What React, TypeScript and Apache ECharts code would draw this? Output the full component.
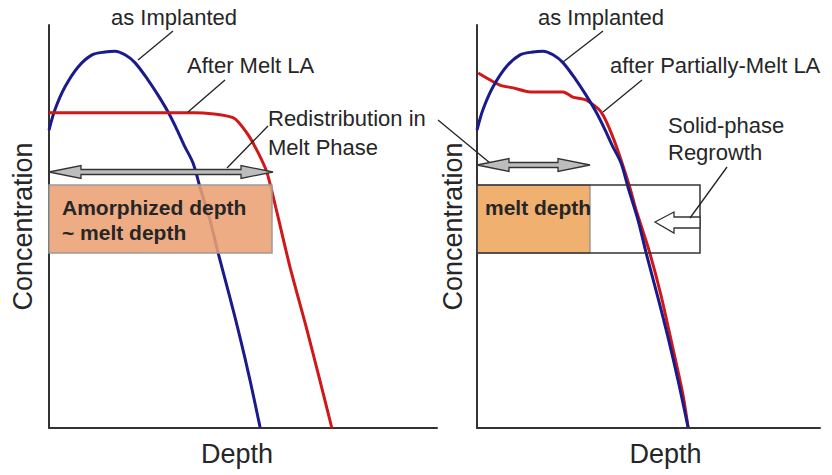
import React, { useEffect, useRef } from "react";
import * as echarts from "echarts";

// as-implanted profile (same in both panels): depth, concentration (arbitrary units)
const implantedDepth = [0, 1.5, 4.1, 7.5, 11.1, 14.4, 17.0, 19.6, 22.2, 25.5, 28.1, 30.7, 33.0, 34.8, 37.1, 38.9, 41.5, 43.6, 46.6, 49.2, 51.8, 54.4];
const implantedConc = [73.9, 78.9, 84.6, 89.6, 92.6, 93.3, 93.5, 92.6, 90.6, 86.4, 82.6, 78.4, 74.0, 70.2, 65.8, 59.8, 51.6, 43.4, 32.5, 22.6, 11.9, 0.2];

// after melt LA (left panel)
const meltDepth = [0, 37.4, 47.4, 51.0, 53.8, 56.2, 58.8, 62.1, 66.5, 69.8, 72.9];
const meltConc = [78.2, 78.2, 77.0, 73.2, 68.5, 63.3, 53.3, 40.0, 24.3, 11.9, 0];

// after partially-melt LA (right panel)
const partialDepth = [0.3, 5.9, 9.3, 13.7, 22.2, 24.7, 28.1, 32.0, 35.3, 39.2, 41.0, 44.3, 47.4, 50.3, 53.1, 54.4];
const partialConc = [88.1, 85.1, 84.4, 83.4, 83.4, 82.1, 81.4, 78.4, 71.5, 60.3, 54.1, 44.2, 33.0, 20.6, 8.2, 0.2];

const FONT = '"Liberation Sans", Arial, sans-serif';
const TXT = "#262626";

const zip = (xs: number[], ys: number[]) => xs.map((x, i) => [x, ys[i]]);

function dblArrow(x1: number, x2: number, y: number) {
  const hl = 32, hh = 6.5, sh = 2.5;
  return {
    type: "polygon",
    z: 20,
    shape: {
      points: [
        [x1, y], [x1 + hl, y - hh], [x1 + hl, y - sh], [x2 - hl, y - sh], [x2 - hl, y - hh],
        [x2, y], [x2 - hl, y + hh], [x2 - hl, y + sh], [x1 + hl, y + sh], [x1 + hl, y + hh],
      ],
    },
    style: { fill: "#bdbdbd", stroke: "#333", lineWidth: 1.3 },
  };
}

function leader(x1: number, y1: number, x2: number, y2: number) {
  return {
    type: "line",
    z: 20,
    shape: { x1, y1, x2, y2 },
    style: { stroke: "#222", lineWidth: 1.3 },
  };
}

function label(text: string, x: number, y: number, align = "left", size = 22, bold = false) {
  return {
    type: "text",
    z: 30,
    x,
    y,
    style: {
      text,
      fill: TXT,
      font: `${bold ? "bold " : ""}${size}px ${FONT}`,
      align,
      verticalAlign: "middle",
    },
  };
}

export default function App() {
  const ref = useRef<HTMLDivElement>(null);

  useEffect(() => {
    if (!ref.current) return;
    const chart = echarts.init(ref.current, undefined, { renderer: "svg" });

    const axisLine = { show: true, lineStyle: { color: "#333", width: 2 } };
    const nameStyle = { fontSize: 27, color: TXT, fontFamily: FONT };

    const xAxisBase = {
      type: "value",
      min: 0,
      axisLine,
      axisTick: { show: false },
      axisLabel: { show: false },
      splitLine: { show: false },
      name: "Depth",
      nameLocation: "middle",
      nameGap: 12,
    };
    const yAxisBase = {
      type: "value",
      min: 0,
      max: 100,
      axisLine,
      axisTick: { show: false },
      axisLabel: { show: false },
      splitLine: { show: false },
      name: "Concentration",
      nameLocation: "middle",
      nameTextStyle: nameStyle,
    };

    const graphic: any[] = [
      // left panel annotations
      {
        type: "rect",
        z: 10,
        shape: { x: 49, y: 185, width: 223, height: 68 },
        style: { fill: "rgba(235,160,115,0.88)", stroke: "#9a9a9a", lineWidth: 1.5 },
      },
      dblArrow(49, 273, 172),
      label("Amorphized depth", 62, 207, "left", 21, true),
      label("~ melt depth", 62, 232, "left", 21, true),
      label("as Implanted", 174, 17, "center"),
      leader(173, 31, 138, 60),
      label("After Melt LA", 187, 65),
      leader(225, 80, 188, 112),
      label("Redistribution in", 268, 118),
      label("Melt Phase", 268, 147),
      leader(268, 126, 227, 168),
      leader(438, 120, 490, 163),

      // right panel annotations
      {
        type: "rect",
        z: 10,
        shape: { x: 477, y: 185, width: 113, height: 68 },
        style: { fill: "#f0b070", stroke: "#8a8a8a", lineWidth: 1.2 },
      },
      {
        type: "rect",
        z: 11,
        shape: { x: 477, y: 185, width: 223, height: 68 },
        style: { fill: "none", stroke: "#333", lineWidth: 1.5 },
      },
      {
        type: "polygon",
        z: 20,
        shape: {
          points: [[655, 222], [674, 212], [674, 217], [700, 217], [700, 228], [674, 228], [674, 233]],
        },
        style: { fill: "#fff", stroke: "#333", lineWidth: 1.3 },
      },
      dblArrow(477, 590, 165),
      label("melt depth", 485, 207, "left", 21, true),
      label("as Implanted", 601, 17, "center"),
      leader(603, 31, 563, 62),
      label("after Partially-Melt LA", 610, 65),
      leader(642, 80, 603, 112),
      label("Solid-phase", 668, 125),
      label("Regrowth", 668, 152),
      leader(727, 167, 690, 218),
    ];

    chart.setOption({
      animation: false,
      backgroundColor: "#fff",
      grid: [
        { left: 49, top: 25, width: 388, height: 403 },
        { left: 477, top: 25, width: 343, height: 403 },
      ],
      xAxis: [
        { ...xAxisBase, gridIndex: 0, max: 100, nameTextStyle: { ...nameStyle, padding: [0, 12, 0, 0] } },
        { ...xAxisBase, gridIndex: 1, max: 88.4, nameTextStyle: { ...nameStyle, padding: [0, 0, 0, 34] } },
      ],
      yAxis: [
        { ...yAxisBase, gridIndex: 0, nameGap: 13 },
        { ...yAxisBase, gridIndex: 1, nameGap: 11 },
      ],
      series: [
        {
          name: "After Melt LA",
          type: "line",
          xAxisIndex: 0,
          yAxisIndex: 0,
          data: zip(meltDepth, meltConc),
          smooth: 0.25,
          symbol: "none",
          lineStyle: { color: "#d01818", width: 3 },
          z: 3,
        },
        {
          name: "as Implanted",
          type: "line",
          xAxisIndex: 0,
          yAxisIndex: 0,
          data: zip(implantedDepth, implantedConc),
          smooth: 0.3,
          symbol: "none",
          lineStyle: { color: "#1a1a8c", width: 3 },
          z: 2,
        },
        {
          name: "after Partially-Melt LA",
          type: "line",
          xAxisIndex: 1,
          yAxisIndex: 1,
          data: zip(partialDepth, partialConc),
          smooth: 0.25,
          symbol: "none",
          lineStyle: { color: "#d01818", width: 3 },
          z: 2,
        },
        {
          name: "as Implanted (right)",
          type: "line",
          xAxisIndex: 1,
          yAxisIndex: 1,
          data: zip(implantedDepth, implantedConc),
          smooth: 0.3,
          symbol: "none",
          lineStyle: { color: "#1a1a8c", width: 3 },
          z: 3,
        },
      ],
      graphic,
    });

    return () => chart.dispose();
  }, []);

  return <div ref={ref} style={{ width: 832, height: 475, position: "absolute", left: 0, top: 0 }} />;
}
